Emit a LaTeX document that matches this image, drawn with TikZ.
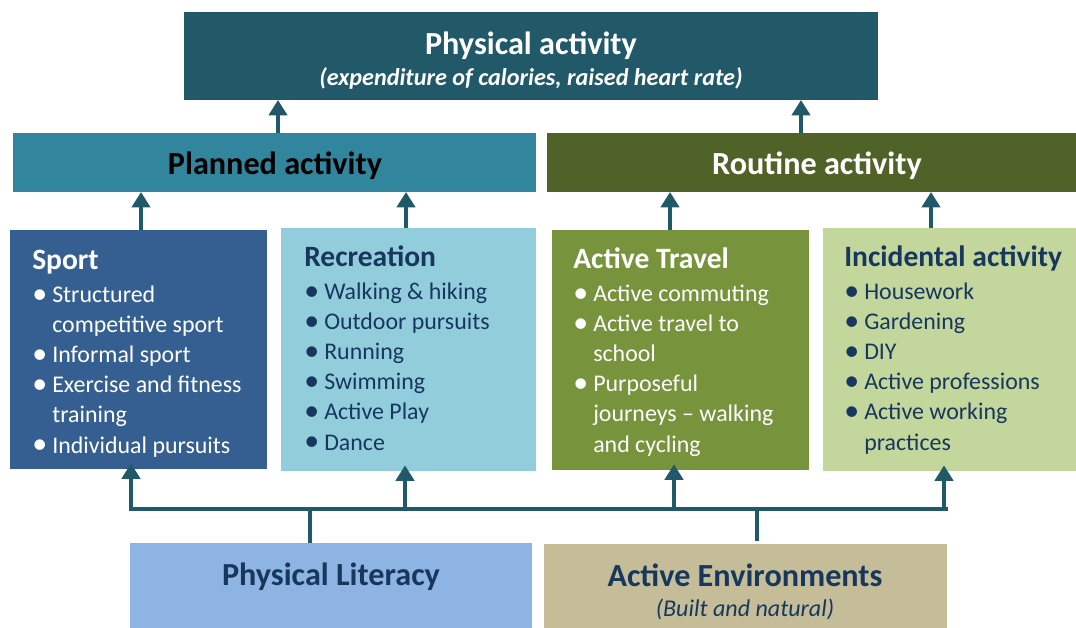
\documentclass[tikz,border=0pt]{standalone}
\usepackage{fontspec}
\setmainfont{Carlito}
\usetikzlibrary{arrows.meta}

\definecolor{activityteal}{RGB}{33,89,104}
\definecolor{plannedteal}{RGB}{49,133,156}
\definecolor{routineolive}{RGB}{79,98,40}
\definecolor{sportblue}{RGB}{54,95,145}
\definecolor{recreationblue}{RGB}{146,205,220}
\definecolor{travelgreen}{RGB}{119,147,60}
\definecolor{incidentalgreen}{RGB}{195,214,155}
\definecolor{literacyblue}{RGB}{141,180,226}
\definecolor{environmenttan}{RGB}{196,189,151}
\definecolor{navytext}{RGB}{23,55,94}
\definecolor{linkteal}{RGB}{33,89,104}

\newcommand{\itm}[1]{\makebox[10.6pt][c]{\raisebox{-0.5pt}{\scalebox{1.25}{\textbullet}}}\hspace*{3.6pt}#1}
\newcommand{\itc}[1]{\hspace*{14.2pt}#1}

\begin{document}
\begin{tikzpicture}[x=0.025cm,y=-0.025cm,
    box/.style={inner sep=0,outer sep=0,anchor=north west},
    headtext/.style={inner sep=0,anchor=base,font=\fontsize{22.9}{27}\selectfont\bfseries},
    subtext/.style={inner sep=0,anchor=base,font=\fontsize{17.2}{20}\selectfont\bfseries\itshape},
    listtext/.style={inner sep=0,anchor=base west,font=\fontsize{17}{21.34}\selectfont},
    link/.style={draw=linkteal,line width=2.6pt,-{Triangle[width=13pt,length=11pt]}},
    feed/.style={draw=linkteal,line width=2.6pt},
    bus/.style={draw=linkteal,line width=3.3pt,line cap=rect}]
    \pgfmathsetmacro{\pxsize}{0.025}
    \providecommand{\listtitle}{\fontsize{21}{24}\selectfont\bfseries}
    \useasboundingbox (0,0) rectangle (1076,628);

    % boxes
    \node[box,fill=activityteal,minimum width=(878-184)*\pxsize cm,minimum height=(100-12)*\pxsize cm] (activity) at (184,12) {};
    \node[box,fill=plannedteal,minimum width=(536-13)*\pxsize cm,minimum height=(192-133)*\pxsize cm] (planned) at (13,133) {};
    \node[box,fill=routineolive,minimum width=(1076-547)*\pxsize cm,minimum height=(192-133)*\pxsize cm] (routine) at (547,133) {};
    \node[box,fill=sportblue,minimum width=(267-10)*\pxsize cm,minimum height=(469-230)*\pxsize cm] (sport) at (10,230) {};
    \node[box,fill=recreationblue,minimum width=(536-281)*\pxsize cm,minimum height=(471-228)*\pxsize cm] (recreation) at (281,228) {};
    \node[box,fill=travelgreen,minimum width=(809-552)*\pxsize cm,minimum height=(470-230)*\pxsize cm] (travel) at (552,230) {};
    \node[box,fill=incidentalgreen,minimum width=(1076-823)*\pxsize cm,minimum height=(471-228)*\pxsize cm] (incidental) at (823,228) {};
    \node[box,fill=literacyblue,minimum width=(532-130)*\pxsize cm,minimum height=(628-543)*\pxsize cm] (literacy) at (130,543) {};
    \node[box,fill=environmenttan,minimum width=(947-544)*\pxsize cm,minimum height=(628-544)*\pxsize cm] (environments) at (544,544) {};

    % texts
    \node[headtext,text=white] (activitytitle) at (531,55) {Physical activity};
    \node[subtext,text=white] (activitynote) at (531,86) {(expenditure of calories, raised heart rate)};
    \node[headtext,text=black] (plannedtitle) at (275,175) {Planned activity};
    \node[headtext,text=white] (routinetitle) at (817,175) {Routine activity};
    \node[listtext,text=white] (sportlist) at (32,270) {\begin{tabular}[t]{@{}l@{}}{\listtitle Sport}\\[2.1pt]
        \itm{Structured}\\\itc{competitive sport}\\\itm{Informal sport}\\\itm{Exercise and fitness}\\\itc{training}\\\itm{Individual pursuits}\end{tabular}};
    \node[listtext,text=navytext] (recreationlist) at (304,267) {\begin{tabular}[t]{@{}l@{}}{\listtitle Recreation}\\[2.1pt]
        \itm{Walking \& hiking}\\\itm{Outdoor pursuits}\\\itm{Running}\\\itm{Swimming}\\\itm{Active Play}\\\itm{Dance}\end{tabular}};
    \node[listtext,text=white] (travellist) at (573,269) {\begin{tabular}[t]{@{}l@{}}{\listtitle Active Travel}\\[2.1pt]
        \itm{Active commuting}\\\itm{Active travel to}\\\itc{school}\\\itm{Purposeful}\\\itc{journeys -- walking}\\\itc{and cycling}\end{tabular}};
    \node[listtext,text=navytext] (incidentallist) at (844,267) {\begin{tabular}[t]{@{}l@{}}{\listtitle Incidental activity}\\[2.1pt]
        \itm{Housework}\\\itm{Gardening}\\\itm{DIY}\\\itm{Active professions}\\\itm{Active working}\\\itc{practices}\end{tabular}};
    \node[headtext,text=navytext] (literacytitle) at (331,585) {Physical Literacy};
    \node[headtext,text=navytext] (environmentstitle) at (745,586) {Active Environments};
    \node[subtext,text=navytext,font=\fontsize{17.1}{20}\selectfont\itshape] (environmentsnote) at (745,616) {(Built and natural)};

    % arrows up
    \draw[link] (planned.north -| 278,0) -- (activity.south -| 278,0);
    \draw[link] (routine.north -| 801,0) -- (activity.south -| 801,0);
    \draw[link] (sport.north -| 141,0) -- (planned.south -| 141,0);
    \draw[link] (recreation.north -| 406,0) -- (planned.south -| 406,0);
    \draw[link] (travel.north -| 670,0) -- (routine.south -| 670,0);
    \draw[link] (incidental.north -| 931,0) -- (routine.south -| 931,0);

    % bus at the bottom
    \coordinate (busleft) at (131,509);
    \coordinate (busright) at (946,509);
    \draw[bus] (busleft) -- (busright);
    \draw[link,shorten >=-4pt] (busleft) -- (sport.south -| busleft);
    \draw[link,shorten >=-4pt] (busleft -| 405,0) -- (recreation.south -| 405,0);
    \draw[link,shorten >=-4pt] (busleft -| 674,0) -- (travel.south -| 674,0);
    \draw[link,shorten >=-4pt] (busright -| 944,0) -- (incidental.south -| 944,0);
    \draw[feed] (literacy.north -| 310,0) -- (busleft -| 310,0);
    \draw[feed] ([yshift=2pt]environments.north -| 757,0) -- (busleft -| 757,0);
\end{tikzpicture}
\end{document}
